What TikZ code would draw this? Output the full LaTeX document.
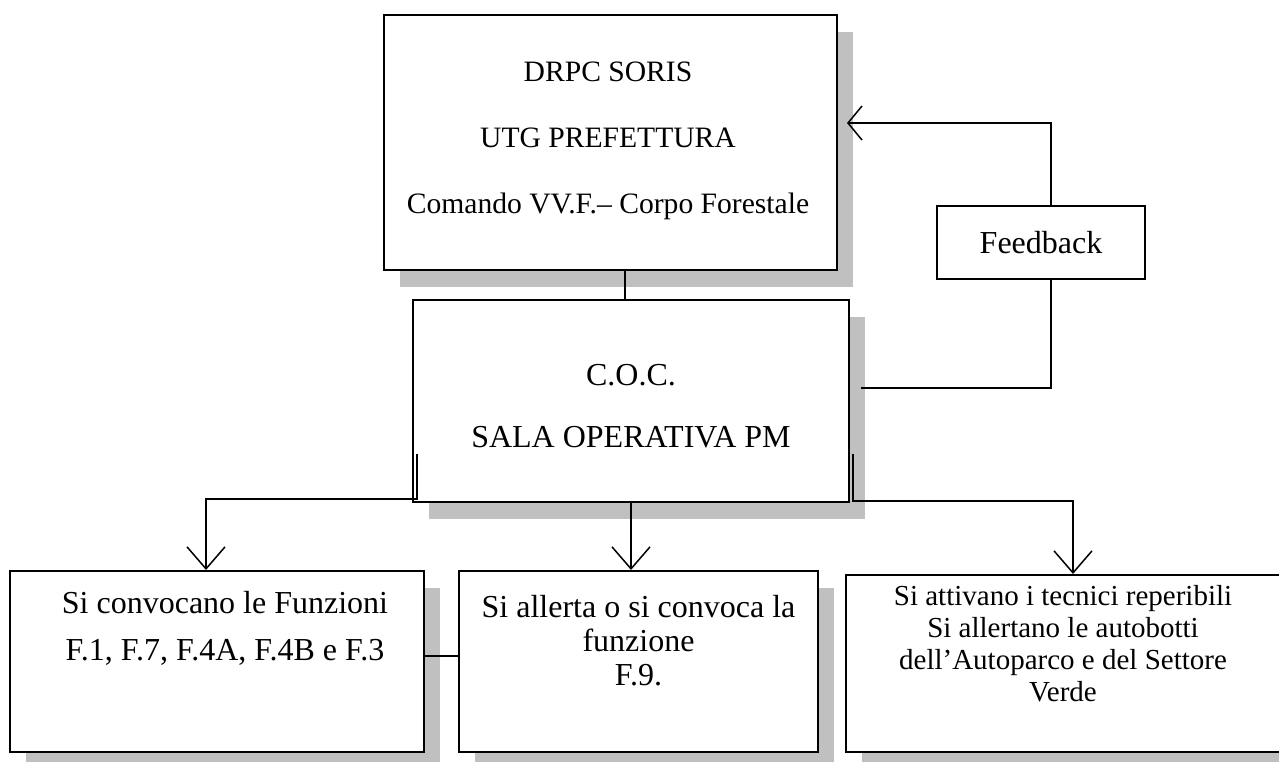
\documentclass[tikz,border=0pt]{standalone}
\usepackage{fontspec}
\setmainfont{Liberation Serif}
\usetikzlibrary{arrows.meta,positioning,shadows}
\definecolor{shadowgray}{RGB}{192,192,192}

\begin{document}
\begin{tikzpicture}[x=0.5pt, y=-0.5pt, >={Straight Barb[length=11pt,width=19pt]},
  box/.style={draw, line width=1pt, inner sep=0pt},
  shbox/.style={box, fill=white, drop shadow={shadow xshift=8pt, shadow yshift=-8.5pt, fill=shadowgray, opacity=1}},
  txt/.style={align=center, inner sep=0pt},
  conn/.style={line width=0.75pt}]
  \useasboundingbox (0,0) rectangle (1279,761);

  % boxes
  \node[shbox, minimum width=226.5pt, minimum height=127.5pt] (soris) at (610.5,142.5) {};
  \node[shbox, minimum width=218pt, minimum height=101pt] (coc) at (631,401) {};
  \node[box, minimum width=104pt, minimum height=36.5pt] (feed) at (1041,242.5) {};
  \node[shbox, minimum width=207pt, minimum height=90.5pt] (funz) at (217,661.5) {};
  \node[shbox, minimum width=179.5pt, minimum height=90.5pt] (fnove) at (638.5,661.5) {};
  \node[shbox, minimum width=217.5pt, minimum height=88.5pt] (tecn) at (1063.5,663.5) {};

  % texts
  \node[txt, font={\fontsize{14.8}{33}\selectfont}] (soristxt) at (608,141) {DRPC SORIS\\UTG PREFETTURA\\Comando VV.F.– Corpo Forestale};
  \node[txt, font={\fontsize{16}{31}\selectfont}] (coctxt) at (631,406) {C.O.C.\\SALA OPERATIVA PM};
  \node[txt, font={\fontsize{16}{19}\selectfont}] (feedtxt) at (feed) {Feedback};
  \node[txt, font={\fontsize{16}{23.5}\selectfont}] (funztxt) at (225,628.5) {Si convocano le Funzioni\\F.1, F.7, F.4A, F.4B e F.3};
  \node[txt, font={\fontsize{16}{17}\selectfont}] (fnovetxt) at (638.5,641) {Si allerta o si convoca la\\funzione\\F.9.};
  \node[txt, font={\fontsize{14.5}{16}\selectfont}] (tecntxt) at (1063,643.5) {Si attivano i tecnici reperibili\\Si allertano le autobotti\\dell’Autoparco e del Settore\\Verde};

  % connectors
  \draw[conn] ([xshift=7.25pt]soris.south) -- ([xshift=7.25pt]soris.south |- coc.north);
  \draw[conn, ->] ([xshift=2.5pt,yshift=24.5pt]coc.south west) -- ++(0,45) -| ([xshift=-5.5pt]funz.north);
  \draw[conn, ->] (coc.south) -- (coc.south |- fnove.north);
  \draw[conn, ->] ([xshift=1.5pt,yshift=24.5pt]coc.south east) -- ++(0,47) -| ([xshift=4.75pt]tecn.north);
  \draw[conn] ([yshift=2.75pt]funz.east) -- ([yshift=2.75pt]funz.east -| fnove.west);
  \draw[conn] ([xshift=5.5pt,yshift=6.5pt]coc.east) -| ([xshift=5pt]feed.south);
  \draw[conn, -{Straight Barb[length=7pt,width=17pt]}] ([xshift=5pt]feed.north) |- ([xshift=4.5pt,yshift=9.75pt]soris.east);
\end{tikzpicture}
\end{document}
